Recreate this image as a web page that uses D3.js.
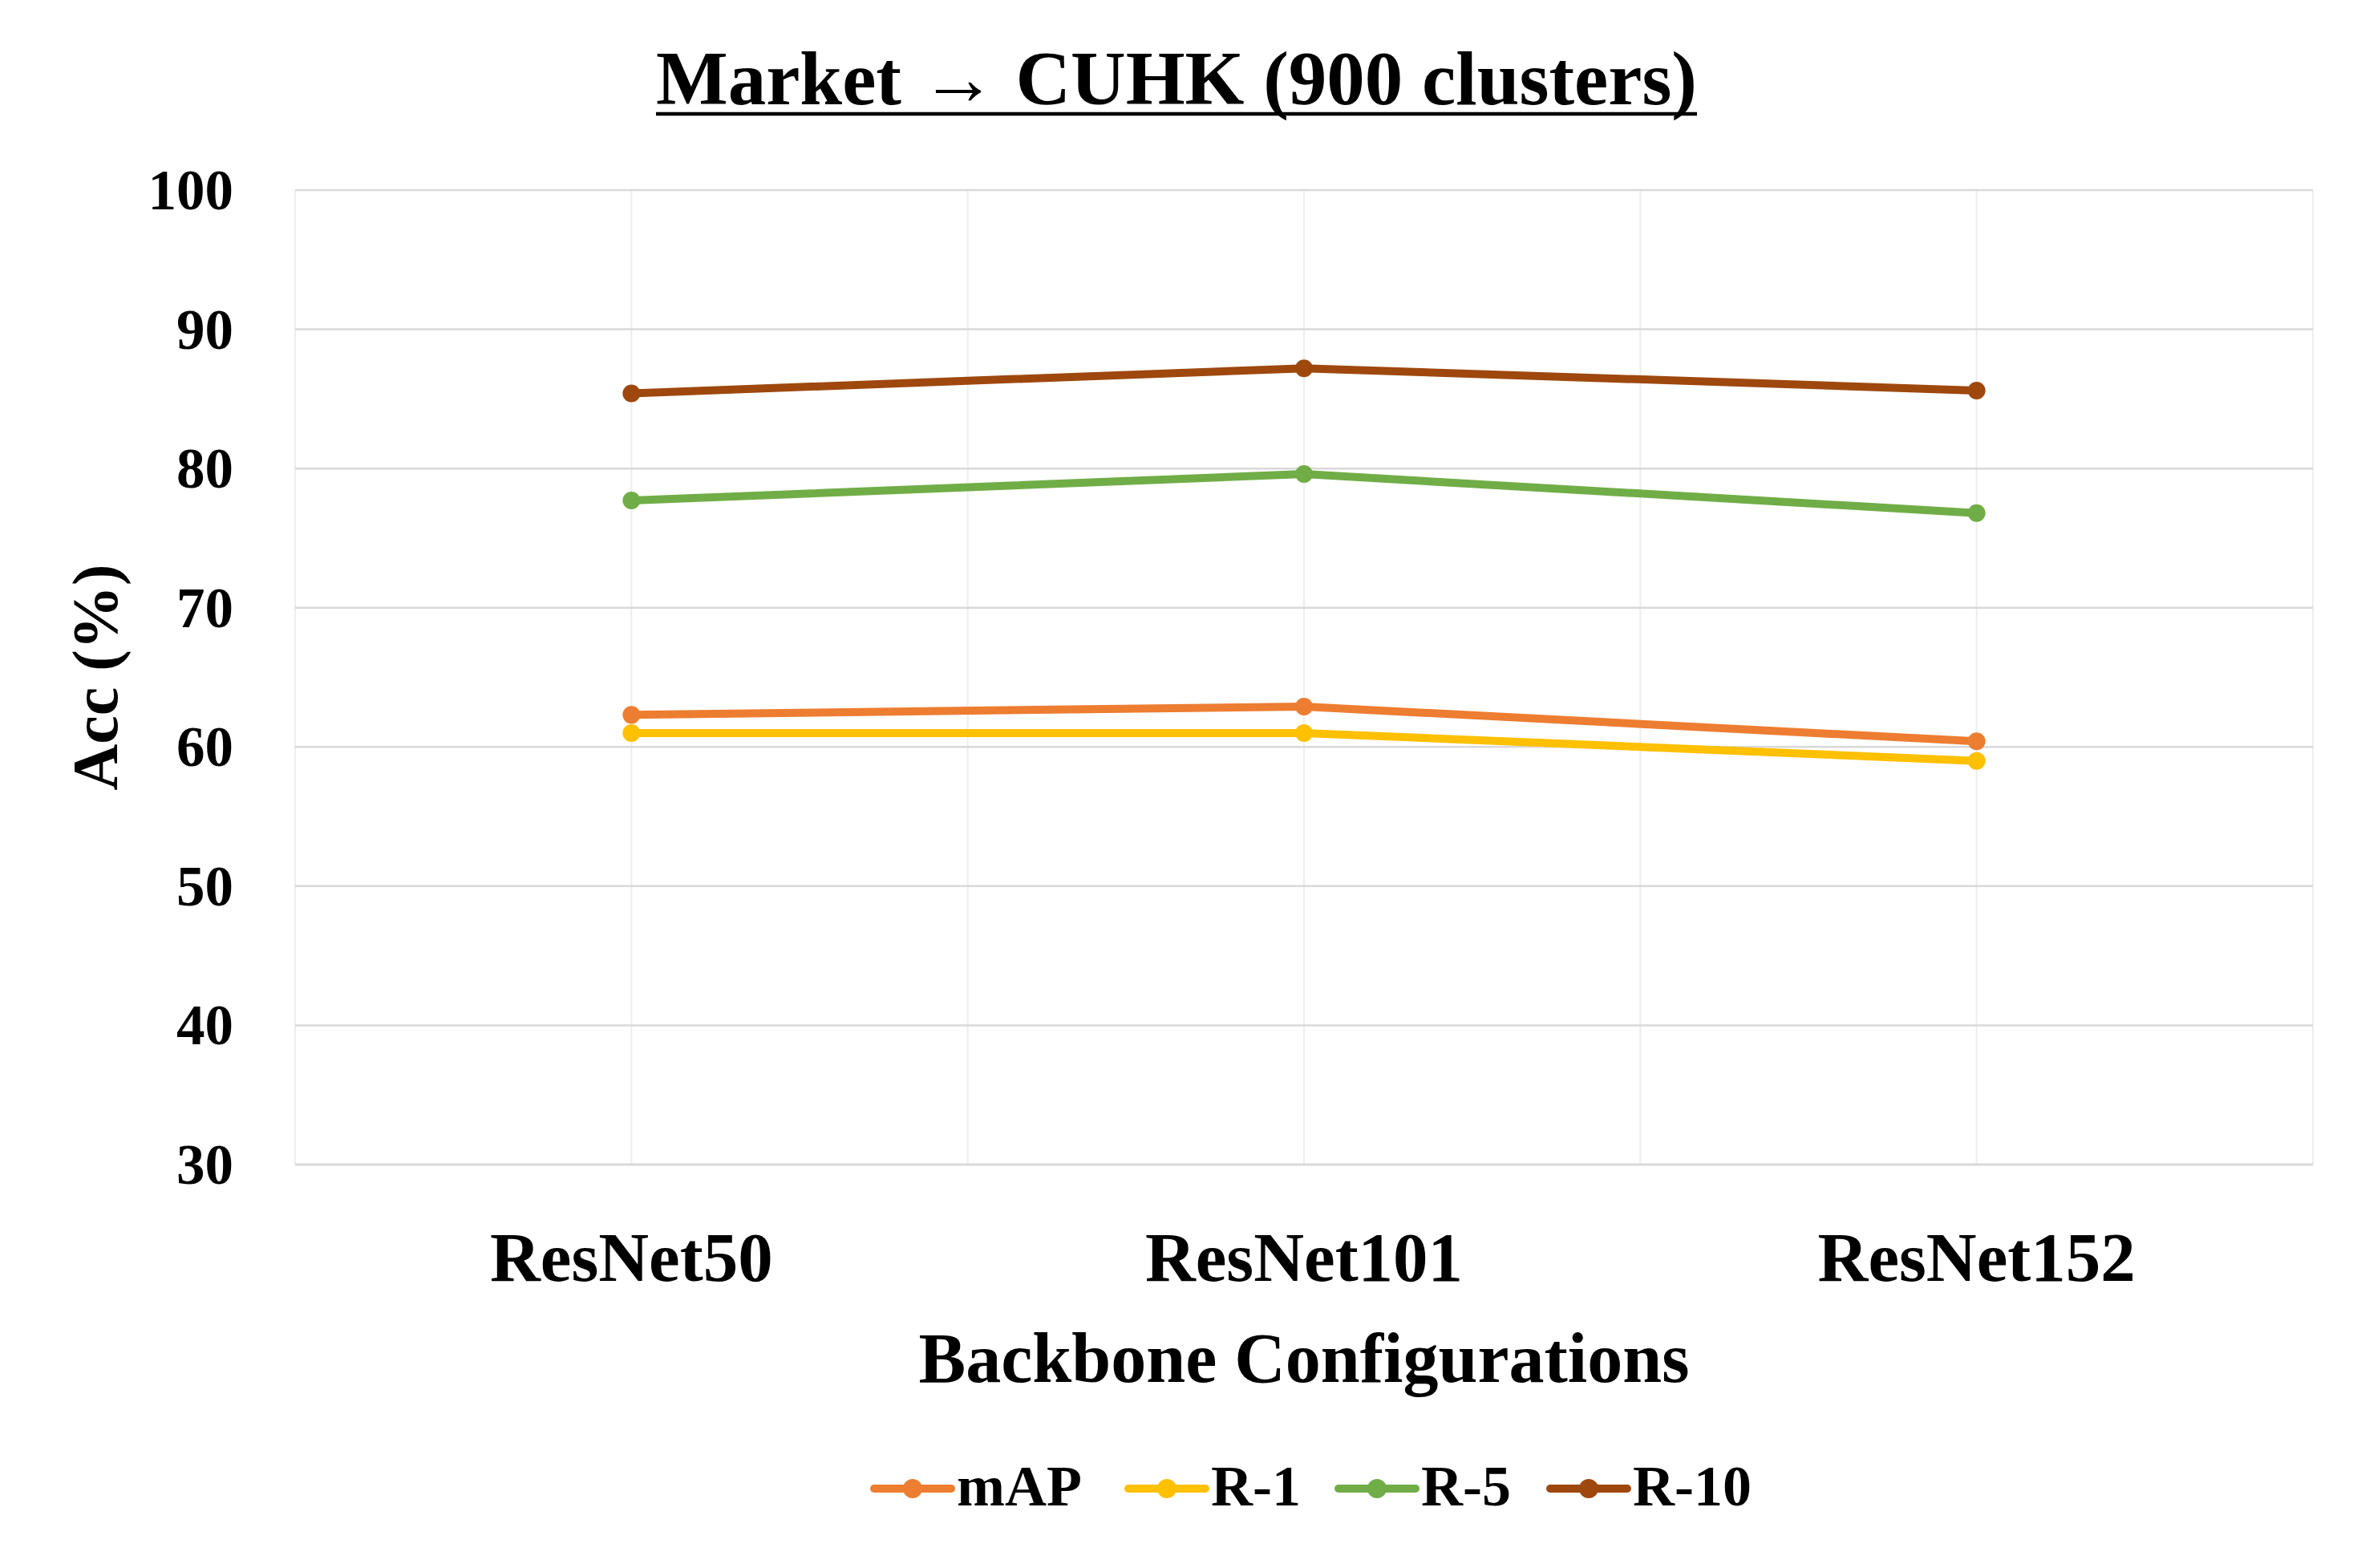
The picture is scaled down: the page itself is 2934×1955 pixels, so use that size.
<!DOCTYPE html>
<html>
<head>
<meta charset="utf-8">
<script src="https://cdn.jsdelivr.net/npm/d3@7"></script>
<style>
	body { margin: 0; background: #fff; }
	text { font-family: "Liberation Serif", "DejaVu Serif", serif; font-weight: bold; fill: #000; }
</style>
</head>
<body>
<div id="chart"></div>
<script>
// data
const categories = ["ResNet50", "ResNet101", "ResNet152"];
const mAP = [62.3, 62.9, 60.4];
const r1 = [61.0, 61.0, 59.0];
const r5 = [77.7, 79.6, 76.8];
const r10 = [85.4, 87.2, 85.6];
const yTicks = [30, 40, 50, 60, 70, 80, 90, 100];

const seriesNames = ["mAP", "R-1", "R-5", "R-10"];
const seriesColors = ["#ED7D31", "#FFC000", "#70AD47", "#9E480E"];
const series = [mAP, r1, r5, r10].map((vals, i) => ({
	name: seriesNames[i],
	color: seriesColors[i],
	values: vals
}));

const width = 2934, height = 1955;
const margin = {top: 237, right: 50, bottom: 503, left: 368};

const svg = d3.select("#chart").append("svg")
	.attr("width", width)
	.attr("height", height);

const x = d3.scaleBand()
	.domain(categories)
	.range([margin.left, width - margin.right])
	.padding(0);

const y = d3.scaleLinear()
	.domain([30, 100])
	.range([height - margin.bottom, margin.top]);

const cx = c => x(c) + x.bandwidth() / 2;

// vertical grid: band edges and band centres
let vLines = [];
categories.forEach(c => {
	vLines.push(x(c));
	vLines.push(cx(c));
});
vLines.push(x.range()[1]);

svg.append("g")
	.selectAll("line")
	.data(vLines)
	.enter()
	.append("line")
	.attr("x1", d => d)
	.attr("x2", d => d)
	.attr("y1", y(100))
	.attr("y2", y(30))
	.attr("stroke", "#ededed")
	.attr("stroke-width", 2);

// horizontal grid
svg.append("g")
	.selectAll("line")
	.data(yTicks.filter(t => t > 30))
	.enter()
	.append("line")
	.attr("x1", x.range()[0])
	.attr("x2", x.range()[1])
	.attr("y1", d => y(d))
	.attr("y2", d => y(d))
	.attr("stroke", "#d9d9d9")
	.attr("stroke-width", 2.5);

// bottom axis line
svg.append("line")
	.attr("x1", x.range()[0])
	.attr("x2", x.range()[1])
	.attr("y1", y(30))
	.attr("y2", y(30))
	.attr("stroke", "#d9d9d9")
	.attr("stroke-width", 3);

// y axis labels
const yAxis = d3.axisLeft(y).tickValues(yTicks).tickSize(0).tickPadding(0);
svg.append("g")
	.attr("class", "yaxis")
	.attr("transform", `translate(291,0)`)
	.call(yAxis)
	.call(g => g.select(".domain").remove())
	.call(g => g.selectAll("text")
		.attr("dy", "0.33em")
		.style("font-size", "71px")
		.style("font-family", "Liberation Serif")
		.style("font-weight", "bold"));

// x axis labels
const xAxis = d3.axisBottom(x).tickSize(0).tickPadding(0);
svg.append("g")
	.attr("class", "xaxis")
	.attr("transform", `translate(0,1597)`)
	.call(xAxis)
	.call(g => g.select(".domain").remove())
	.call(g => g.selectAll("text")
		.attr("y", 0)
		.attr("dy", 0)
		.style("font-size", "87px")
		.style("font-family", "Liberation Serif")
		.style("font-weight", "bold"));

// lines and markers
const line = d3.line()
	.x((d, i) => cx(categories[i]))
	.y(d => y(d));

series.forEach(s => {
	svg.append("path")
		.datum(s.values)
		.attr("fill", "none")
		.attr("stroke", s.color)
		.attr("stroke-width", 10)
		.attr("stroke-linejoin", "round")
		.attr("d", line);

	svg.selectAll(`circle.s${s.name.replace("-", "")}`)
		.data(s.values)
		.enter()
		.append("circle")
		.attr("class", `s${s.name.replace("-", "")}`)
		.attr("cx", (d, i) => cx(categories[i]))
		.attr("cy", d => y(d))
		.attr("r", 11)
		.attr("fill", s.color);
});

// title
const title = svg.append("text")
	.attr("x", width / 2)
	.attr("y", 130)
	.attr("text-anchor", "middle")
	.style("font-size", "95px")
	.text("Market \u2192 CUHK (900 clusters)");

const tb = title.node().getBBox();
svg.append("line")
	.attr("x1", tb.x)
	.attr("x2", tb.x + tb.width)
	.attr("y1", 142)
	.attr("y2", 142)
	.attr("stroke", "#000")
	.attr("stroke-width", 4.5);

// axis titles
svg.append("text")
	.attr("x", (x.range()[0] + x.range()[1]) / 2)
	.attr("y", 1723)
	.attr("text-anchor", "middle")
	.style("font-size", "88px")
	.text("Backbone Configurations");

svg.append("text")
	.attr("transform", `translate(146,${(y(30) + y(100)) / 2}) rotate(-90)`)
	.attr("text-anchor", "middle")
	.style("font-size", "80px")
	.text("Acc (%)");

// legend
const legendX = [1090, 1407, 1669, 1933];
const legend = svg.append("g");
series.forEach((s, i) => {
	const g = legend.append("g").attr("transform", `translate(${legendX[i]},1856)`);
	g.append("line")
		.attr("x1", 0)
		.attr("x2", 96)
		.attr("stroke", s.color)
		.attr("stroke-width", 10)
		.attr("stroke-linecap", "round");
	g.append("circle")
		.attr("cx", 48)
		.attr("r", 12)
		.attr("fill", s.color);
	g.append("text")
		.attr("x", 103)
		.attr("y", 21)
		.style("font-size", "72px")
		.text(s.name);
});
</script>
</body>
</html>
